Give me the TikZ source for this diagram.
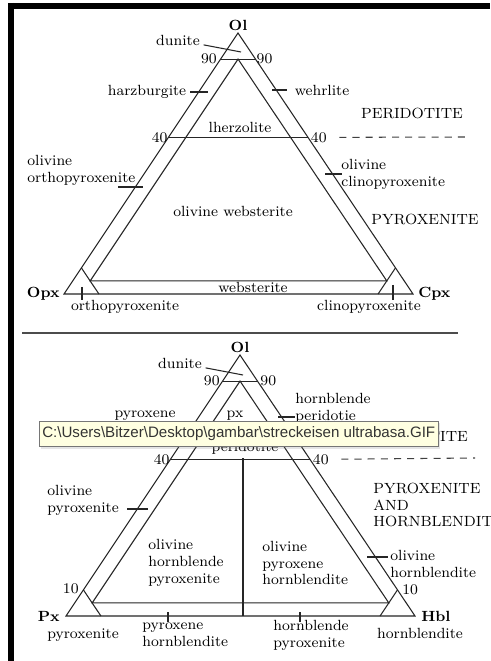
\documentclass[tikz,border=0pt]{standalone}
\usepackage{fontspec}
\newfontfamily\tipfont{Liberation Sans}
\usetikzlibrary{positioning, calc, shadows}
\newcommand{\labfont}{\fontsize{8.4}{9.6}\selectfont}
\newcommand{\pathsep}{\textbackslash}
\definecolor{tipfill}{HTML}{FFFFE1}
\definecolor{tipline}{HTML}{767676}

\begin{document}
\begin{tikzpicture}[x=0.02cm, y=-0.02cm,
    edge/.style={line width=0.6pt, black!85},
    lab/.style={font=\labfont, inner sep=0pt},
    rock/.style={lab, align=left, anchor=west},
    vtx/.style={font=\labfont\bfseries, inner sep=0pt},
    bound/.style={line width=0.6pt, black!75, dash pattern=on 4pt off 3.5pt},
    tip/.style={draw=tipline, fill=tipfill, line width=0.5pt, font=\tipfont\fontsize{8.6}{10}\selectfont, text=black!80, inner xsep=1.6pt, minimum height=12.5pt, anchor=west,
        drop shadow={opacity=0.2, shadow xshift=1pt, shadow yshift=-1pt}}]
    \useasboundingbox[fill=white] (0,0) rectangle (490,661);

    % window frame
    \draw[line width=2.9pt] (8,6) -- (490,6);
    \draw[line width=3.1pt] (11,3) -- (11,661);

    % ---- upper triangle: Ol - Opx - Cpx
    \coordinate (ol1) at (238,33);
    \coordinate (opx) at (64,294);
    \coordinate (cpx) at (413,294);
    \draw[edge] (ol1) -- (opx) -- (cpx) -- cycle;
    \draw[edge] (barycentric cs:ol1=0.9,opx=0.05,cpx=0.05) -- (barycentric cs:ol1=0.05,opx=0.9,cpx=0.05)
        -- (barycentric cs:ol1=0.05,opx=0.05,cpx=0.9) -- cycle;
    \coordinate (a90l) at (barycentric cs:ol1=0.9,opx=0.1);
    \coordinate (a90r) at (barycentric cs:ol1=0.9,cpx=0.1);
    \coordinate (a40l) at (barycentric cs:ol1=0.6,opx=0.4);
    \coordinate (a40r) at (barycentric cs:ol1=0.6,cpx=0.4);
    \draw[edge] (a90l) -- (a90r);
    \draw[edge] (a40l) -- (a40r);
    \draw[edge] (barycentric cs:opx=0.9,ol1=0.1) -- (barycentric cs:opx=0.9,cpx=0.1);
    \draw[edge] (barycentric cs:cpx=0.9,ol1=0.1) -- (barycentric cs:cpx=0.9,opx=0.1);

    \node[vtx, above=1pt of ol1] (ol1lab) {Ol};
    \node[vtx, left=2.3pt of opx] (opxlab) {Opx};
    \node[vtx, right=2.8pt of cpx] (cpxlab) {Cpx};
    \node[lab, left=2pt of a90l] (n90a) {90};
    \node[lab, right=0.5pt of a90r] (n90b) {90};
    \node[lab, left=0.3pt of a40l] (n40a) {40};
    \node[lab, right=1.5pt of a40r] (n40b) {40};

    \node[lab] (dun1) at (178,40) {dunite};
    \coordinate (dun1pt) at (241,52);
    \draw[edge, shorten <=2pt] (dun1) -- (dun1pt);
    \node[lab] (harz) at (147,92) {harzburgite};
    \coordinate (harzpt) at (208,92);
    \draw[edge, shorten <=2pt] (harz) -- (harzpt);
    \node[lab] (wehr) at (322,90) {wehrlite};
    \coordinate (wehrpt) at (272,90);
    \draw[edge, shorten >=4pt] (wehrpt) -- (wehr);
    \node[lab] (lherz) at (240,127) {lherzolite};
    \node[lab] (perid1) at (412,113) {PERIDOTITE};
    \coordinate (dash1e) at (467,137);
    \draw[bound, shorten <=7pt] (n40b) -- (dash1e);

    \node[rock] (olopx) at (27,170) {olivine\\orthopyroxenite};
    \draw[edge] (118,187) -- (143,187);
    \node[rock] (olcpx) at (341,174) {olivine\\clinopyroxenite};
    \draw[edge] (325,174) -- (342,174);
    \node[lab] (olweb) at (233,211) {olivine websterite};
    \node[lab] (pyrox1) at (425,219) {PYROXENITE};
    \node[lab] (web) at (253,287) {websterite};
    \node[lab] (orthlab) at (125,307) {orthopyroxenite};
    \coordinate (orthtk) at (82,287);
    \draw[edge] (orthtk) -- (orthtk |- orthlab.north);
    \node[lab] (clinlab) at (369,307) {clinopyroxenite};
    \coordinate (clintk) at (393,285);
    \draw[edge] (clintk) -- (clintk |- clinlab.north);

    % separator
    \draw[line width=0.6pt, black!70] (22,333) -- (458,333);

    % ---- lower triangle: Ol - Px - Hbl
    \coordinate (ol2) at (240,355);
    \coordinate (px) at (66,616);
    \coordinate (hbl) at (415,616);
    \draw[edge] (ol2) -- (px) -- (hbl) -- cycle;
    \draw[edge] (barycentric cs:ol2=0.9,px=0.05,hbl=0.05) -- (barycentric cs:ol2=0.05,px=0.9,hbl=0.05)
        -- (barycentric cs:ol2=0.05,px=0.05,hbl=0.9) -- cycle;
    \coordinate (b90l) at (barycentric cs:ol2=0.9,px=0.1);
    \coordinate (b90r) at (barycentric cs:ol2=0.9,hbl=0.1);
    \coordinate (b40l) at (barycentric cs:ol2=0.6,px=0.4);
    \coordinate (b40r) at (barycentric cs:ol2=0.6,hbl=0.4);
    \coordinate (b10l) at (barycentric cs:px=0.9,ol2=0.1);
    \coordinate (b10r) at (barycentric cs:hbl=0.9,ol2=0.1);
    \draw[edge] (b90l) -- (b90r);
    \draw[edge] (b40l) -- (b40r);
    \draw[edge] (b10l) -- (barycentric cs:px=0.9,hbl=0.1);
    \draw[edge] (b10r) -- (barycentric cs:hbl=0.9,px=0.1);
    \coordinate (vtop) at (243,458);
    \draw[edge] (vtop) -- (vtop |- hbl);

    \node[vtx, above=1pt of ol2] (ol2lab) {Ol};
    \node[vtx, left=3.4pt of px] (pxlab) {Px};
    \node[vtx, right=3.4pt of hbl] (hbllab) {Hbl};
    \node[lab, left=1.5pt of b90l] (m90a) {90};
    \node[lab, right=1.5pt of b90r] (m90b) {90};
    \node[lab, left=0.3pt of b40l] (m40a) {40};
    \node[lab, right=1.5pt of b40r] (m40b) {40};
    \node[lab, above left=0.5pt and 2.5pt of b10l, anchor=east] (m10a) {10};
    \node[lab, right=2.5pt of b10r] (m10b) {10};

    \node[lab] (dun2) at (180,363) {dunite};
    \coordinate (dun2pt) at (243,375);
    \draw[edge, shorten <=2pt] (dun2) -- (dun2pt);
    \node[lab] (pxper) at (145,416) {pyroxene};
    \node[lab] (pxhb) at (235,416) {px};
    \node[lab] (pxhbper) at (245,448) {peridotite};
    \node[rock] (hbper) at (295,408) {hornblende\\peridotie};
    \coordinate (hbperpt) at (278,417);
    \draw[edge] (hbperpt) -- (hbperpt -| hbper.west);
    \node[lab] (perid2) at (417,436) {PERIDOTITE};
    \coordinate (dash2e) at (475,458);
    \draw[bound, shorten <=7pt] (m40b) -- (dash2e);
    \node[rock] (pyhb) at (373,505) {PYROXENITE\\AND\\HORNBLENDITE};

    \node[rock] (olpx) at (47,500) {olivine\\pyroxenite};
    \draw[edge] (127,509) -- (148,509);
    \node[rock] (olhbpx) at (148,563) {olivine\\hornblende\\pyroxenite};
    \node[rock] (olpxhb) at (262,563) {olivine\\pyroxene\\hornblendite};
    \node[rock] (olhb) at (390,564) {olivine\\hornblendite};
    \draw[edge] (367,557) -- (388,557);

    \node[lab] (pxlab2) at (83,635) {pyroxenite};
    \node[rock] (pxhblab) at (142,635) {pyroxene\\hornblendite};
    \coordinate (pxhbtk) at (168,612);
    \draw[edge] (pxhbtk) -- (168,622);
    \node[rock] (hbpxlab) at (273,635) {hornblende\\pyroxenite};
    \coordinate (hbpxtk) at (300,612);
    \draw[edge] (hbpxtk) -- (300,622);
    \node[lab] (hblab2) at (420,633) {hornblendite};

    % tooltip of the viewer
    \node[tip] (tipbox) at (39,434) {C:\pathsep Users\pathsep Bitzer\pathsep Desktop\pathsep gambar\pathsep streckeisen ultrabasa.GIF};
\end{tikzpicture}
\end{document}
